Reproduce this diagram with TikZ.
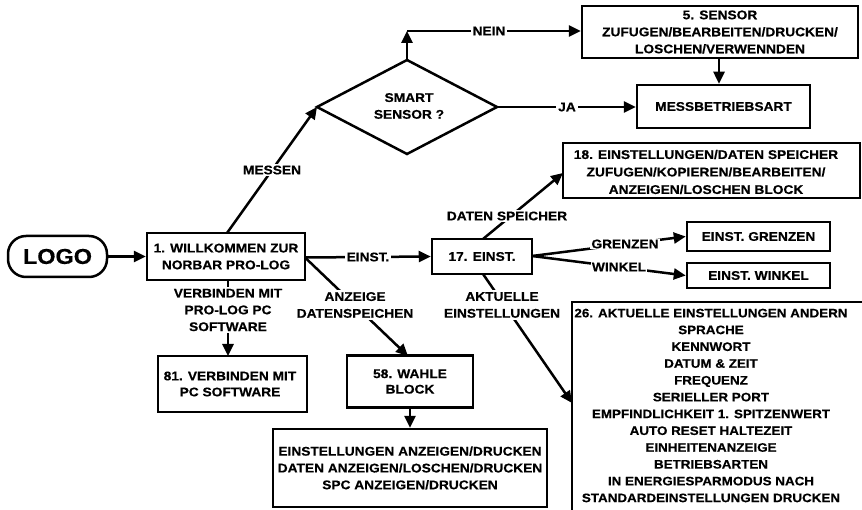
\documentclass[tikz,border=0pt]{standalone}
\usepackage{fontspec}
\setmainfont[FakeStretch=1.09, BoldFeatures={FakeBold=0.5}]{Liberation Sans}
\usetikzlibrary{arrows.meta}
\tikzset{
  every node/.style={font=\bfseries\fontsize{12.6}{16.8}\selectfont},
  box/.style={draw, line width=2.5pt, inner sep=0pt, align=center},
  lbl/.style={fill=white, inner sep=2pt, align=center},
  conn/.style={line width=2.5pt},
  arr/.style={line width=2.5pt, -{Triangle[length=12pt,width=11pt]}},
}
\begin{document}
\begin{tikzpicture}[x=1pt,y=-1pt]
\useasboundingbox (0,0) rectangle (862,510);
\begin{scope}
\clip (0,0) rectangle (862,510);
% nodes
\node[box, rounded corners=18pt, minimum width=99pt, minimum height=41pt, font=\bfseries\fontsize{21.5}{24}\selectfont] (logo) at (57.5,256.5) {LOGO};
\node[box, minimum width=158pt, minimum height=47pt] (b1) at (226,256.5) {1. WILLKOMMEN ZUR\\NORBAR PRO-LOG};
\coordinate (dl) at (317,107);
\coordinate (dr) at (497,107);
\coordinate (dt) at (407,60);
\coordinate (db) at (407,154);
\draw[conn, line join=miter] (dl) -- (dt) -- (dr) -- (db) -- cycle;
\node[align=center] (dtext) at (409,106) {SMART\\SENSOR ?};
\node[box, minimum width=276pt, minimum height=52pt] (b5) at (720,32) {};
\node[align=center, font=\bfseries\fontsize{12.6}{17}\selectfont] (b5t) at (720,32) {5. SENSOR\\ZUFUGEN/BEARBEITEN/DRUCKEN/\\LOSCHEN/VERWENNDEN};
\node[box, minimum width=173pt, minimum height=43pt] (mb) at (723.5,106.5) {MESSBETRIEBSART};
\node[box, minimum width=297pt, minimum height=55pt] (b18) at (711.5,170.5) {};
\node[align=center, font=\bfseries\fontsize{12.6}{17.5}\selectfont] (b18t) at (706,172) {18. EINSTELLUNGEN/DATEN SPEICHER\\ZUFUGEN/KOPIEREN/BEARBEITEN/\\ANZEIGEN/LOSCHEN BLOCK};
\node[box, minimum width=100pt, minimum height=35pt] (b17) at (482,256.5) {17. EINST.};
\node[box, minimum width=143pt, minimum height=29pt] (bg) at (758.5,236.5) {EINST. GRENZEN};
\node[box, minimum width=143pt, minimum height=25pt] (bw) at (758.5,275.5) {EINST. WINKEL};
\draw[line width=2.5pt] (572,530) |- (880,302);
\coordinate (b26w) at (572,403);
\node[align=center, font=\bfseries\fontsize{12.3}{16.8}\selectfont] (b26t) at (711,405.5) {26. AKTUELLE EINSTELLUNGEN ANDERN\\SPRACHE\\KENNWORT\\DATUM \& ZEIT\\FREQUENZ\\SERIELLER PORT\\EMPFINDLICHKEIT 1. SPITZENWERT\\AUTO RESET HALTEZEIT\\EINHEITENANZEIGE\\BETRIEBSARTEN\\IN ENERGIESPARMODUS NACH\\STANDARDEINSTELLUNGEN DRUCKEN};
\node[box, minimum width=149pt, minimum height=56pt] (b81) at (232.5,384) {};
\node[align=center, font=\bfseries\fontsize{12.6}{16}\selectfont] (b81t) at (230,384) {81. VERBINDEN MIT\\PC SOFTWARE};
\node[box, minimum width=126pt, minimum height=52pt, font=\bfseries\fontsize{12.6}{15.5}\selectfont] (b58) at (410,381.5) {58. WAHLE\\BLOCK};
\node[box, minimum width=274pt, minimum height=78pt] (bbig) at (410,468) {EINSTELLUNGEN ANZEIGEN/DRUCKEN\\DATEN ANZEIGEN/LOSCHEN/DRUCKEN\\SPC ANZEIGEN/DRUCKEN};
% connectors
\draw[arr] (logo.east) -- (b1.west);
\coordinate (b1top) at (227,233);
\draw[arr] (b1top) -- (dl) node[lbl, pos=0.5] (lm) {MESSEN};
\coordinate (cn) at (407,31);
\draw[arr] (dt) -- (cn);
\draw[arr] (cn) -- (cn -| b5.west);
\node[lbl] (ln) at (489,31) {NEIN};
\draw[arr] (dr) -- (dr -| mb.west);
\node[lbl] (lj) at (567,107) {JA};
\draw[arr] (b5.south -| 719,0) -- (mb.north -| 719,0);
\coordinate (b1e) at (305,257.5);
\draw[arr] (b1e) -- (b17.west);
\node[lbl] (le) at (368,257) {EINST.};
\coordinate (b17t) at (483,239);
\draw[arr] (b17t) -- (563,173) ;
\node[lbl] (lds) at (507,216) {DATEN SPEICHER};
\coordinate (b17e) at (532,256);
\draw[arr] (b17e) -- (bg.west);
\node[lbl, inner sep=1pt] (lg) at (625,244) {GRENZEN};
\draw[arr] (b17e) -- (bw.west);
\node[lbl, inner sep=1pt] (lw) at (619,267) {WINKEL};
\coordinate (b17b) at (483,274);
\draw[arr] (b17b) -- (b26w);
\node[lbl] (lak) at (502,305) {AKTUELLE\\EINSTELLUNGEN};
\draw[arr] (b1e) -- (408,356);
\node[lbl] (lad) at (355,305) {ANZEIGE\\DATENSPEICHEN};
\coordinate (b1b) at (228,280);
\draw[arr] (b1b) -- (228,356);
\node[lbl] (lv) at (228,310) {VERBINDEN MIT\\PRO-LOG PC\\SOFTWARE};
\draw[arr] (b58.south) -- (bbig.north);
\end{scope}
\end{tikzpicture}
\end{document}
